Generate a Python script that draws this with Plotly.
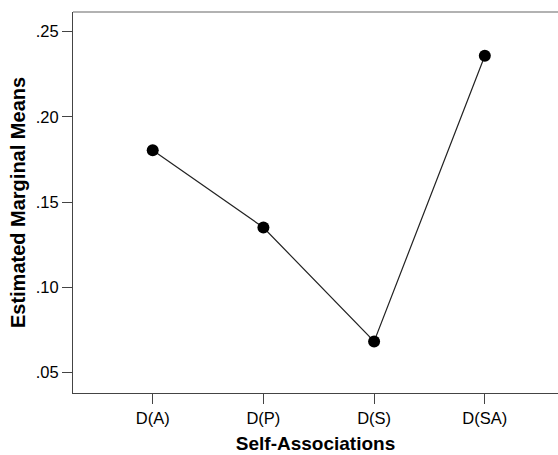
import plotly.graph_objects as go

categories = ["D(A)", "D(P)", "D(S)", "D(SA)"]
means = [0.1804, 0.1351, 0.0683, 0.2358]
y_ticks = [0.05, 0.10, 0.15, 0.20, 0.25]
y_tick_labels = [".05", ".10", ".15", ".20", ".25"]

x_pos = list(range(len(categories)))

fig = go.Figure()
fig.add_trace(go.Scatter(
    x=x_pos, y=means, mode="lines+markers",
    line=dict(color="#222222", width=1.2),
    marker=dict(color="black", size=12),
    showlegend=False, hoverinfo="skip",
))

font_family = "Liberation Sans, Arial, sans-serif"
fig.update_layout(
    width=558, height=455,
    margin=dict(l=73, r=0, t=12, b=62),
    paper_bgcolor="white", plot_bgcolor="white",
    font=dict(family=font_family, size=16.5, color="black"),
    xaxis=dict(
        range=[-0.72, 3.661], tickvals=x_pos, ticktext=categories,
        showgrid=False, zeroline=False, showline=True, linecolor="#444444", linewidth=1.2,
        ticks="outside", ticklen=10, tickcolor="#444444", tickwidth=1.2,
        tickfont=dict(size=16.5, family=font_family),
        title=dict(text="<b>Self-Associations</b>", font=dict(size=19, family=font_family), standoff=10),
    ),
    yaxis=dict(
        range=[0.0381, 0.2614], tickvals=y_ticks, ticktext=y_tick_labels,
        showgrid=False, zeroline=False, showline=True, linecolor="#444444", linewidth=1.2,
        ticks="outside", ticklen=10, tickcolor="#444444", tickwidth=1.2,
        tickfont=dict(size=16.5, family=font_family),
        ticklabelstandoff=0,
        title=dict(text="<b>Estimated Marginal Means</b>", font=dict(size=20, family=font_family), standoff=4),
    ),
    shapes=[dict(type="line", xref="paper", yref="paper", x0=0, x1=1, y0=1, y1=1,
                 line=dict(color="#999999", width=1.5))],
)

fig.write_html("out.html", config={"displayModeBar": False},
               post_script="document.body.style.margin='0';")
